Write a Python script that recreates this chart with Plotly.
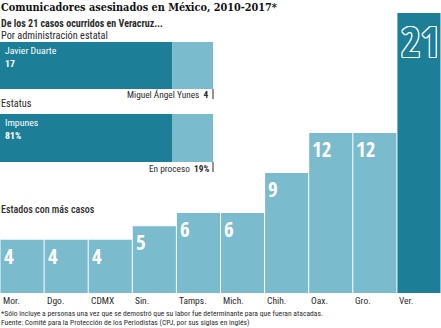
import plotly.graph_objects as go

# --- data -------------------------------------------------------------
states = ["Mor.", "Dgo.", "CDMX", "Sin.", "Tamps.", "Mich.", "Chih.", "Oax.", "Gro.", "Ver."]
cases = [4, 4, 4, 5, 6, 6, 9, 12, 12, 21]

admin_names = ["Javier Duarte", "Miguel Ángel Yunes"]
admin_cases = [17, 4]

status_names = ["Impunes", "En proceso"]
status_pct = [81, 19]

LIGHT = "rgb(122,187,205)"
DARK = "rgb(29,126,152)"
TEXT = "#2b2b2b"
SANS = "'Roboto Condensed', Roboto, sans-serif"
NUM = "'Open Sans Condensed', 'Roboto Condensed', sans-serif"
SERIF = "'DejaVu Serif Condensed', 'DejaVu Serif', serif"

bar_colors = [DARK if s == "Ver." else LIGHT for s in states]

fig = go.Figure()

# states with most cases (main axes)
fig.add_trace(go.Bar(
    x=states, y=cases, width=0.977, marker=dict(color=bar_colors, line=dict(width=0)),
    hoverinfo="skip", showlegend=False,
))

# Veracruz by state administration (x2/y2)
fig.add_trace(go.Bar(
    x=[admin_cases[0]], y=[0], orientation="h", width=1, xaxis="x2", yaxis="y2",
    marker=dict(color=DARK, line=dict(width=0)), hoverinfo="skip", showlegend=False,
))
fig.add_trace(go.Bar(
    x=[admin_cases[1]], y=[0], base=[admin_cases[0]], orientation="h", width=1,
    xaxis="x2", yaxis="y2", marker=dict(color=LIGHT, line=dict(width=0)),
    hoverinfo="skip", showlegend=False,
))

# Veracruz by status (x3/y3)
fig.add_trace(go.Bar(
    x=[status_pct[0]], y=[0], orientation="h", width=1, xaxis="x3", yaxis="y3",
    marker=dict(color=DARK, line=dict(width=0)), hoverinfo="skip", showlegend=False,
))
fig.add_trace(go.Bar(
    x=[status_pct[1]], y=[0], base=[status_pct[0]], orientation="h", width=1,
    xaxis="x3", yaxis="y3", marker=dict(color=LIGHT, line=dict(width=0)),
    hoverinfo="skip", showlegend=False,
))

hidden = dict(showgrid=False, zeroline=False, showticklabels=False, ticks="",
              showline=False, fixedrange=True)

fig.update_layout(
    width=441, height=328,
    margin=dict(l=0, r=0, t=13, b=35),
    paper_bgcolor="white", plot_bgcolor="rgba(0,0,0,0)",
    barmode="overlay",
    xaxis=dict(hidden, range=[-0.5, 9.5], type="category"),
    yaxis=dict(hidden, range=[0, 21]),
    xaxis2=dict(hidden, domain=[0, 0.483], range=[0, sum(admin_cases)], anchor="y2"),
    yaxis2=dict(hidden, domain=[0.7286, 0.8964], range=[-0.5, 0.5], anchor="x2"),
    xaxis3=dict(hidden, domain=[0, 0.483], range=[0, sum(status_pct)], anchor="y3"),
    yaxis3=dict(hidden, domain=[0.4679, 0.6393], range=[-0.5, 0.5], anchor="x3"),
    font=dict(family=SANS, color=TEXT),
)

ann = []

def text(x, y, s, size, color=TEXT, family=SANS, xanchor="left", yanchor="middle",
         xref="paper", yref="paper", xshift=0, yshift=0, weight="normal", shadow=None):
    f = dict(size=size, color=color, family=family, weight=weight)
    if shadow:
        f["shadow"] = shadow
    ann.append(dict(x=x, y=y, text=s, showarrow=False, xref=xref, yref=yref,
                    xanchor=xanchor, yanchor=yanchor, xshift=xshift, yshift=yshift,
                    font=f, align="left"))

def py(px):
    # pixel row -> paper coordinate of the plot area
    return (293 - px) / 280

# headings
text(0, py(7), "<b>Comunicadores asesinados en México, 2010-2017*</b>", 10.8,
     color="#111", family=SERIF, xshift=-1)
text(0, py(24), "<b>De los 21 casos ocurridos en Veracruz...</b>", 10, xshift=-1)
text(0, py(35.5), "Por administración estatal", 10.3, xshift=-1)
text(0, py(103.5), "Estatus", 10.3, xshift=-1)
text(0, py(210), "Estados con más casos", 10, xshift=-1, weight=500)

# labels inside / beside the horizontal bars
text(0, 0.5, f"{admin_names[0]}<br><b>{admin_cases[0]}</b>", 9.8, color="white",
     xref="x2 domain", yref="y2 domain", yanchor="top", xshift=3, yshift=23)
text(1, py(95), f"{admin_names[1]}  <b>{admin_cases[1]}</b>", 9.3,
     xref="x2 domain", xanchor="right", xshift=-2)
text(0, 0.5, f"{status_names[0]}<br><b>{status_pct[0]}%</b>", 9.8, color="white",
     xref="x3 domain", yref="y3 domain", yanchor="top", xshift=3, yshift=23)
text(1, py(168.5), f"{status_names[1]}  <b>{status_pct[1]}%</b>", 9.3,
     xref="x3 domain", xanchor="right", xshift=-2)

# value labels on the vertical bars
for s, v in zip(states, cases):
    if s == "Ver.":
        outline = ("1px 0 0 #fff, -1px 0 0 #fff, 0 1px 0 #fff, 0 -1px 0 #fff, "
                   "1px 1px 0 #fff, -1px -1px 0 #fff, 1px -1px 0 #fff, -1px 1px 0 #fff")
        text(s, v, str(v), 42, color=DARK, family=NUM, xref="x", yref="y",
             yanchor="top", xshift=-20, yshift=3, weight="bold", shadow=outline)
    else:
        text(s, v, str(v), 21, color="white", family=NUM, xref="x", yref="y",
             yanchor="top", xshift=-20.5, yshift=0, weight="bold")
    # category name under each bar
    text(s, py(300), s, 9.5, xref="x", xshift=-21.5)

# footnotes
text(0, py(313.5), "*Sólo incluye a personas una vez que se demostró que su labor fue "
     "determinante para que fueran atacadas.", 7.6, xshift=-1)
text(0, py(322.5), "Fuente: Comité para la Protección de los Periodistas (CPJ, por sus "
     "siglas en inglés)", 7.6, xshift=-1)

fig.update_layout(annotations=ann)

# end ticks of the stacked bars
tick = dict(type="line", line=dict(color=TEXT, width=1), xref="x2 domain", yref="paper")
fig.update_layout(shapes=[
    dict(tick, x0=1, x1=1, y0=py(89), y1=py(99)),
    dict(tick, xref="x3 domain", x0=1, x1=1, y0=py(162), y1=py(172)),
])

fig.write_html("out.html", config={"displayModeBar": False})
